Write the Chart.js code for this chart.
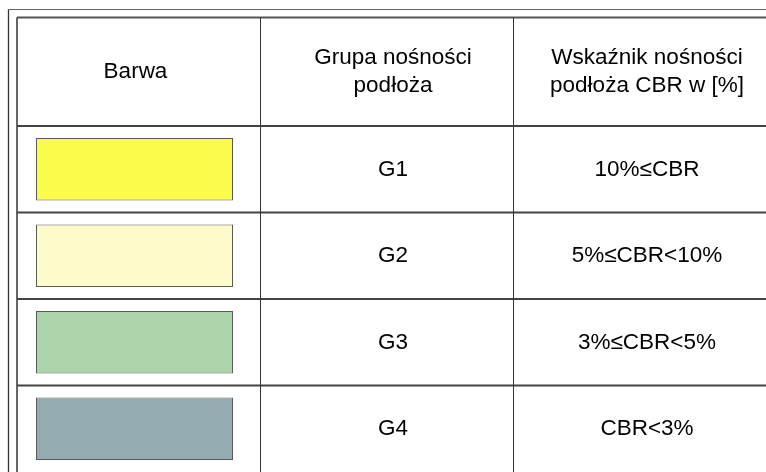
<!DOCTYPE html>
<html>
<head>
<meta charset="utf-8">
<script src="https://cdn.jsdelivr.net/npm/chart.js@4/dist/chart.umd.min.js"></script>
<style>
  html, body { margin: 0; padding: 0; background: #fff; }
  canvas { display: block; }
</style>
</head>
<body>
<canvas id="cbrTable" width="766" height="472"></canvas>
<script>
// dane tabeli
const headerBarwa = ['Barwa'];
const headerGrupa = ['Grupa nośności', 'podłoża'];
const headerCbr = ['Wskaźnik nośności', 'podłoża CBR w [%]'];
const groups = ['G1', 'G2', 'G3', 'G4'];
const cbrRanges = ['10%≤CBR', '5%≤CBR<10%', '3%≤CBR<5%', 'CBR<3%'];
const swatchColors = ['#fbfb4c', '#fdfbc9', '#acd4aa', '#94abb1'];

// układ (jednostki osi x = piksele tabeli od lewej krawędzi)
const COL_EDGES = [0, 243, 496];
const TEXT_X = [118.5, 376, 630];
const SWATCH_SPAN = [19, 216];
const FONT = '22.5px "Liberation Sans", Arial, sans-serif';

const tablePlugin = {
  id: 'tablePlugin',
  beforeDraw(chart) {
    const ctx = chart.ctx;
    ctx.save();
    ctx.fillStyle = '#fff';
    ctx.fillRect(0, 0, chart.width, chart.height);
    ctx.restore();
  },
  afterDatasetsDraw(chart) {
    const ctx = chart.ctx;
    const area = chart.chartArea;
    const x = chart.scales.x;
    const y = chart.scales.y;
    const W = chart.width, H = chart.height;
    const band = y.getPixelForValue(1) - y.getPixelForValue(0);

    function line(x1, y1, x2, y2, w, c) {
      ctx.beginPath();
      ctx.lineWidth = w;
      ctx.strokeStyle = c;
      ctx.moveTo(x1, y1);
      ctx.lineTo(x2, y2);
      ctx.stroke();
    }

    ctx.save();
    // ramka zewnętrzna
    line(8.5, 9, 8.5, H, 1.3, '#333');
    line(8, 9.5, W, 9.5, 1, '#666');
    // górna i lewa krawędź tabeli
    const tableTop = 17.5;
    line(area.left, tableTop, W, tableTop, 2, '#555');
    line(area.left, tableTop, area.left, H, 1.5, '#333');
    // linie poziome
    line(area.left, area.top, W, area.top, 2, '#444');
    for (let i = 0; i < groups.length - 1; i++) {
      const py = y.getPixelForValue(i) + band / 2;
      line(area.left, py, W, py, 2, '#444');
    }
    // linie pionowe
    for (let i = 1; i < COL_EDGES.length; i++) {
      const px = Math.round(x.getPixelForValue(COL_EDGES[i])) + 0.5;
      line(px, tableTop, px, H, 1, '#333');
    }

    // teksty
    ctx.font = FONT;
    ctx.fillStyle = '#000';
    ctx.textAlign = 'center';
    ctx.textBaseline = 'middle';
    const centers = TEXT_X.map(v => x.getPixelForValue(v));
    const headMid = (tableTop + area.top) / 2 + 0.5;
    [headerBarwa, headerGrupa, headerCbr].forEach((lines, c) => {
      lines.forEach((t, k) => {
        const off = (k - (lines.length - 1) / 2) * 28;
        ctx.fillText(t, centers[c], headMid + off);
      });
    });
    groups.forEach((g, i) => {
      const py = y.getPixelForValue(i) + 0.5;
      ctx.fillText(g, centers[1], py);
      ctx.fillText(cbrRanges[i], centers[2], py);
    });
    ctx.restore();
  }
};

new Chart(document.getElementById('cbrTable'), {
  type: 'bar',
  data: {
    labels: groups,
    datasets: [{
      data: groups.map(() => SWATCH_SPAN),
      backgroundColor: swatchColors,
      borderColor: '#5a5a5a',
      borderWidth: 1,
      borderSkipped: false,
      barPercentage: 0.72,
      categoryPercentage: 1
    }]
  },
  options: {
    indexAxis: 'y',
    responsive: false,
    animation: false,
    layout: { padding: { left: 17, top: 126, right: 0, bottom: 0 } },
    scales: {
      x: { type: 'linear', min: 0, max: 749, display: false },
      y: { display: false }
    },
    plugins: {
      legend: { display: false },
      tooltip: { enabled: false }
    }
  },
  plugins: [tablePlugin]
});
</script>
</body>
</html>
